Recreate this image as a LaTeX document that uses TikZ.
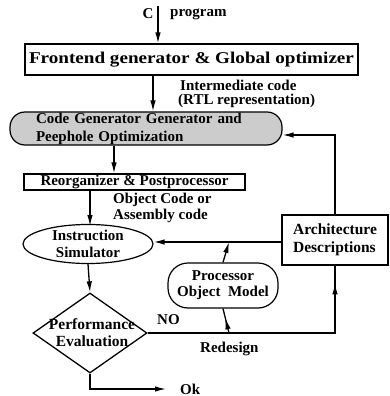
\documentclass[tikz,border=0pt]{standalone}
\usepackage{fontspec}
\setmainfont{Liberation Serif}
\newfontfamily\widefont{Liberation Serif}[FakeStretch=1.16]
\usetikzlibrary{shapes.geometric,arrows.meta,decorations.markings}
\begin{document}
\begin{tikzpicture}[x=1pt,y=-1pt,
  tip/.style={-{Latex[length=11pt,width=5.5pt]}},
  lin/.style={line width=1.3pt},
  midtip/.style={decoration={markings,mark=at position #1 with {\arrow{Latex[length=11pt,width=5.5pt]}}},postaction={decorate}},
  boxn/.style={draw,line width=1.2pt,inner sep=0pt,font=\fontsize{15}{18}\selectfont\bfseries},
  txt/.style={inner sep=0pt,font=\fontsize{15}{16}\selectfont\bfseries,align=left}]
\useasboundingbox (0,0) rectangle (389,396);

\node[boxn,minimum width=333pt,minimum height=31pt,font=\widefont\fontsize{16.5}{18}\selectfont\bfseries] (fe) at (191.5,59.5) {Frontend generator \& Global optimizer};
\node[boxn,rounded corners=15pt,fill=black!20,minimum width=272pt,minimum height=33pt,text width=220pt,inner xsep=26pt,align=left] (cg) at (146,128.5) {Code Generator Generator and\\Peephole Optimization};
\node[boxn,minimum width=221pt,minimum height=16pt] (ro) at (134.5,182) {Reorganizer \& Postprocessor};
\node[boxn,ellipse,minimum width=130pt,minimum height=38pt,align=center,font=\fontsize{15}{17}\selectfont\bfseries] (sim) at (88,244) {Instruction\\Simulator};
\node[draw,line width=1.3pt,diamond,minimum width=114pt,minimum height=80pt,inner sep=0pt] (pe) at (90,333) {};
\node[txt,align=center,font=\fontsize{15.5}{17}\selectfont\bfseries] (pet) at (92,333) {Performance\\Evaluation};
\node[boxn,minimum width=106pt,minimum height=50pt,align=left,font=\fontsize{15.5}{18}\selectfont\bfseries] (ar) at (335,240) {Architecture\\Descriptions};
\node[boxn,rounded corners=20pt,minimum width=110pt,minimum height=45pt,align=center,font=\fontsize{15}{16}\selectfont\bfseries] (pm) at (223,285.5) {Processor\\Object\ \ Model};

\node[txt] (c) at (148,14) {C};
\node[txt,anchor=west] (prog) at (170,14) {program};
\coordinate (cin) at (158,6);
\node[txt,anchor=west] (im) at (180,85) {Intermediate code};
\node[txt,anchor=west] (rtl) at (178,101) {(RTL representation)};
\node[txt,anchor=west,font=\fontsize{15}{16}\selectfont\bfseries] (oc) at (113,208) {Object Code or\\Assembly code};
\node[txt,anchor=west] (no) at (157,320) {NO};
\node[txt,anchor=west] (rd) at (200,349) {Redesign};
\node[txt,anchor=west] (ok) at (180,389) {Ok};
\coordinate (rj) at (229,333);
\coordinate (jn) at (229,242);

\draw[lin,tip] (cin) -- (cin |- fe.north);
\draw[lin,tip] (153,0 |- fe.south) -- (153,0 |- cg.north);
\draw[lin,tip] (114,0 |- cg.south) -- (114,0 |- ro.north);
\draw[lin,tip] (90,0 |- ro.south) -- (90,226);
\draw[lin,tip] (sim.south) -- (pe.north);
\draw[lin,tip] (pe.south) |- ([xshift=-14pt]ok.west);
\draw[lin,midtip=0.93] (pe.east) -| (ar.south);
\draw[lin,midtip=0.6] (rj) -- (pm.south);
\draw[lin,tip] (pm.north) -- (jn);
\draw[lin,tip] (ar.west |- jn) -- (sim.east |- jn);
\draw[lin,tip] (ar.north) |- (cg.east |- 0,135);
\end{tikzpicture}
\end{document}
